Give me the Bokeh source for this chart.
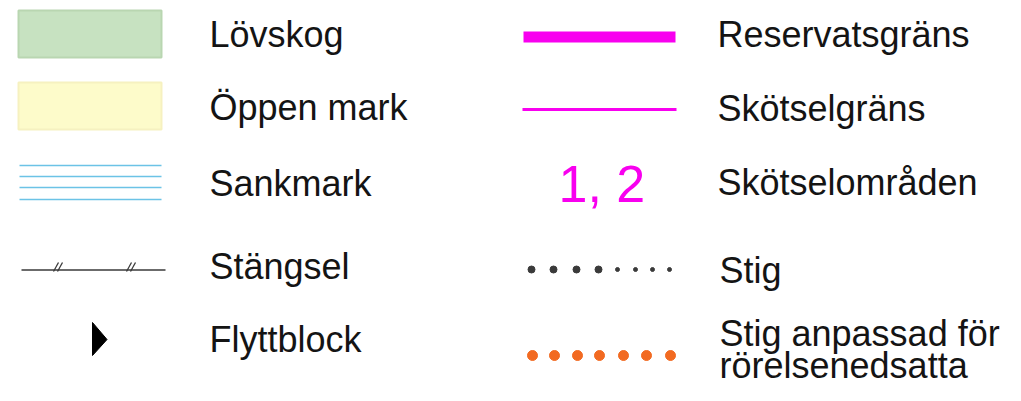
from bokeh.plotting import figure
from bokeh.models import Range1d
from bokeh.core.properties import value
from bokeh.embed import file_html
from bokeh.resources import INLINE

# ---- legend content ----
left_labels = ["Lövskog", "Öppen mark", "Sankmark", "Stängsel", "Flyttblock"]
right_labels = ["Reservatsgräns", "Skötselgräns", "Skötselområden", "Stig",
                "Stig anpassad för", "rörelsenedsatta"]
area_colors = ["#c7e2c1", "#fdfbca"]
area_lines = ["#b9d6b1", "#f6f1c0"]
zone_text = "1, 2"

# ---- layout (pixel space of the picture) ----
W, H = 1005, 385
p = figure(width=W, height=H, output_backend="svg", toolbar_location=None,
           x_range=Range1d(0, W), y_range=Range1d(H, 0),
           min_border=0, outline_line_color=None, background_fill_color="white",
           border_fill_color="white")
p.axis.visible = False
p.grid.visible = False

FONT = value("Liberation Sans")
FSZ = 36
BIG = 52
# rendered baseline sits ~0.37em below the anchor; compensate
off = 0.37 * FSZ
off_big = 0.37 * BIG

left_base = [47, 120, 196, 279, 352]
right_base = [47, 121, 195, 283, 346, 378]

p.text(x=[209] * len(left_labels), y=[b - off for b in left_base], text=left_labels,
       text_font=FONT, text_font_size=f"{FSZ}px", text_color="#141414",
       text_baseline="alphabetic", text_align="left")
p.text(x=[717, 717, 717, 719, 719, 719], y=[b - off for b in right_base], text=right_labels,
       text_font=FONT, text_font_size=f"{FSZ}px", text_color="#141414",
       text_baseline="alphabetic", text_align="left")

# area swatches
p.quad(left=[18, 18], right=[161, 161], top=[10, 82], bottom=[57, 129],
       fill_color=area_colors, line_color=area_lines, line_width=2)

# Sankmark lines
for yy in [165, 176, 187, 199]:
    p.line(x=[19, 161], y=[yy, yy], line_color="#6cc3e6", line_width=1.6)

# Stängsel
p.line(x=[21, 165], y=[269.5, 269.5], line_color="#3a3a3a", line_width=1.5)
for x0 in [53, 57, 126, 130]:
    p.line(x=[x0, x0 + 5], y=[271, 262], line_color="#3a3a3a", line_width=1.3)

# Flyttblock
p.patch(x=[92, 106.5, 92], y=[322, 339, 355], fill_color="black", line_color="black", line_width=1)

# Reservatsgräns / Skötselgräns
p.line(x=[523, 675], y=[36.5, 36.5], line_color="#f800ef", line_width=11, line_cap="butt")
p.line(x=[522, 676], y=[109, 109], line_color="#f800ef", line_width=3, line_cap="butt")

# Skötselområden symbol
p.text(x=[558], y=[203 - off_big], text=[zone_text], text_font=FONT, text_font_size=f"{BIG}px",
       text_color="#f800ef", text_baseline="alphabetic", text_align="left")

# Stig
p.scatter(x=[531, 553, 576, 598], y=[269] * 4, size=7, color="#3a3a3a")
p.scatter(x=[617, 635, 652, 669], y=[269] * 4, size=4, color="#3a3a3a")

# Stig anpassad
p.scatter(x=[532, 554, 577, 599, 623, 646, 670], y=[355] * 7, size=10,
          color="#f26a21")

open("out.html", "w").write(file_html(p, INLINE))
